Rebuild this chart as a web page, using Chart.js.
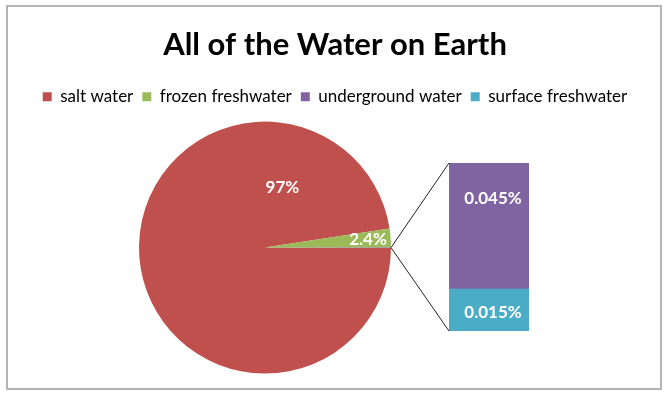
<!DOCTYPE html>
<html>
<head>
<meta charset="utf-8">
<script src="https://cdn.jsdelivr.net/npm/chart.js@4"></script>
<style>
  body { margin: 0; background: #fff; }
  #wrap { position: relative; width: 670px; height: 398px; }
  #frame { position: absolute; left: 6px; top: 5px; width: 652px; height: 381px; border: 2px solid #b4b4b4; }
  canvas { position: absolute; left: 0; top: 0; }
</style>
</head>
<body>
<div id="wrap">
  <div id="frame"></div>
  <canvas id="pieChart" width="670" height="398"></canvas>
  <canvas id="barChart" width="670" height="398"></canvas>
</div>
<script>
// data
var labels = ['salt water', 'frozen freshwater', 'underground water', 'surface freshwater'];
var values = [97, 2.4, 0.045, 0.015];
var valueText = ['97%', '2.4%', '0.045%', '0.015%'];
var colors = ['#C0504D', '#9BBB59', '#8064A2', '#4BACC6'];

var total = values.reduce((a, b) => a + b, 0);
var font = 'Lato';

// empty boxes beside the pie so title and legend keep the full width
var sideGap = {
    id: 'sideGap',
    beforeInit(chart, args, opts) {
        ['left', 'right'].forEach(pos => {
            Chart.layouts.addBox(chart, {
                position: pos, weight: 0, fullSize: false, options: {},
                left: 0, top: 0, right: 0, bottom: 0, width: 0, height: 0,
                isHorizontal() { return false; },
                update(w, h) { this.width = opts[pos]; this.height = h; },
                draw() {}
            });
        });
    }
};

// value labels on the pie
var pieLabels = {
    id: 'pieLabels',
    afterDatasetsDraw(chart) {
        var arcs = chart.getDatasetMeta(0).data;
        var c = chart.ctx;
        c.save();
        c.fillStyle = '#fff';
        c.font = 'bold 17px ' + font;
        c.textAlign = 'center';
        c.textBaseline = 'middle';
        // salt water: Excel puts it up near the top
        var a0 = arcs[0];
        var ang = -74 * Math.PI / 180;
        c.fillText(valueText[0], a0.x + Math.cos(ang) * a0.outerRadius * 0.5, a0.y + Math.sin(ang) * a0.outerRadius * 0.5);
        var a1 = arcs[1];
        var mid = (a1.startAngle + a1.endAngle) / 2;
        c.fillText(valueText[1], a1.x + Math.cos(mid) * a1.outerRadius * 0.82, a1.y + Math.sin(mid) * a1.outerRadius * 0.82);
        c.restore();
    }
};

var pieChart = new Chart(document.getElementById('pieChart'), {
    type: 'pie',
    data: {
        labels: labels,
        datasets: [{
            data: values,
            backgroundColor: colors,
            borderWidth: 0
        }]
    },
    options: {
        responsive: false,
        animation: false,
        rotation: 90 - (values[0] + values[1]) / total * 360,
        layout: { padding: { top: 0, bottom: 18 } },
        plugins: {
            sideGap: { left: 139, right: 279 },
            title: {
                display: true,
                text: 'All of the Water on Earth',
                color: '#000',
                font: { family: font, size: 31, weight: 'bold' },
                padding: { top: 26, bottom: 16 }
            },
            legend: {
                position: 'top',
                labels: {
                    color: '#000',
                    font: { family: font, size: 17 },
                    boxWidth: 9,
                    boxHeight: 9,
                    padding: 9
                }
            },
            tooltip: { enabled: false }
        }
    },
    plugins: [sideGap, pieLabels]
});

// connector lines from pie to bar, plus bar labels
var barExtras = {
    id: 'barExtras',
    afterDatasetsDraw(chart) {
        var c = chart.ctx;
        var bottom = chart.getDatasetMeta(0).data[0];
        var top = chart.getDatasetMeta(1).data[0];
        var left = top.x - top.width / 2;
        var arc = pieChart.getDatasetMeta(0).data[1];
        var px = arc.x + Math.cos(arc.endAngle) * arc.outerRadius;
        var py = arc.y + Math.sin(arc.endAngle) * arc.outerRadius;
        c.save();
        c.strokeStyle = '#222';
        c.lineWidth = 1;
        c.beginPath();
        c.moveTo(left, top.y);
        c.lineTo(px, py);
        c.lineTo(left, bottom.base);
        c.stroke();
        c.fillStyle = '#fff';
        c.font = 'bold 17px ' + font;
        c.textAlign = 'center';
        c.textBaseline = 'middle';
        c.fillText(valueText[2], top.x + 4, top.y + 36);
        c.fillText(valueText[3], bottom.x + 4, (bottom.y + bottom.base) / 2 + 3);
        c.restore();
    }
};

new Chart(document.getElementById('barChart'), {
    type: 'bar',
    data: {
        labels: ['other'],
        datasets: [
            { label: labels[3], data: [values[3]], backgroundColor: colors[3] },
            { label: labels[2], data: [values[2]], backgroundColor: colors[2] }
        ]
    },
    options: {
        responsive: false,
        animation: false,
        layout: { padding: { left: 449, right: 141, top: 163, bottom: 67 } },
        datasets: { bar: { barPercentage: 1, categoryPercentage: 1 } },
        scales: {
            x: { display: false, stacked: true },
            y: { display: false, stacked: true, min: 0, max: values[2] + values[3] }
        },
        plugins: {
            legend: { display: false },
            tooltip: { enabled: false }
        }
    },
    plugins: [barExtras]
});
</script>
</body>
</html>
